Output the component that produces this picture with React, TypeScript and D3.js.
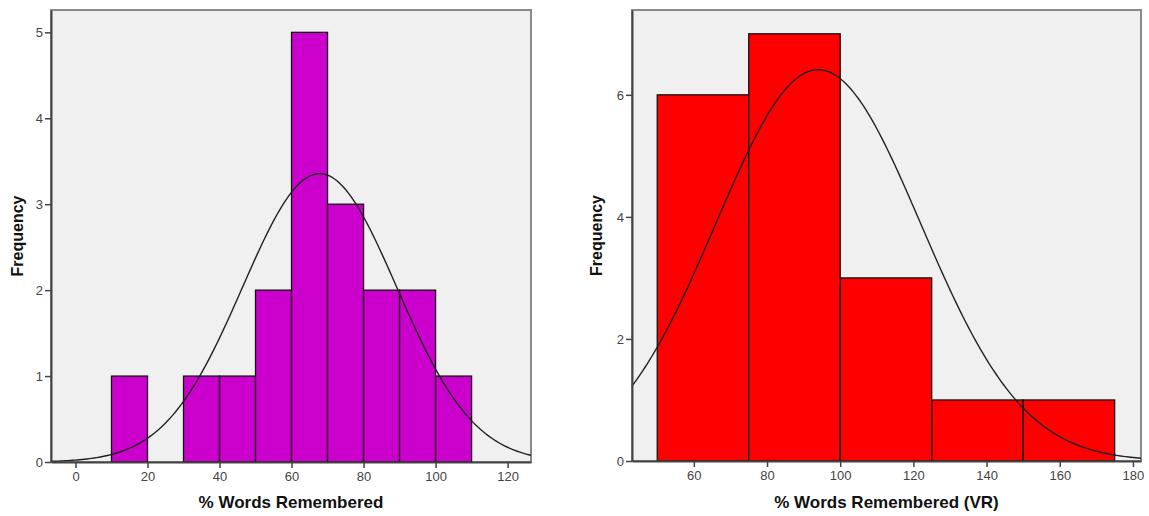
import { useRef, useEffect } from 'react';
import * as d3 from 'd3';

// left histogram: % Words Remembered
const leftBins = [10, 30, 40, 50, 60, 70, 80, 90, 100];
const leftCounts = [1, 1, 1, 2, 5, 3, 2, 2, 1];
const leftBinWidth = 10;
const leftTicksX = [0, 20, 40, 60, 80, 100, 120];
const leftTicksY = [0, 1, 2, 3, 4, 5];
const leftMean = 67.8;
const leftSd = 21.4;

// right histogram: % Words Remembered (VR)
const rightBins = [50, 75, 100, 125, 150];
const rightCounts = [6, 7, 3, 1, 1];
const rightBinWidth = 25;
const rightTicksX = [60, 80, 100, 120, 140, 160, 180];
const rightTicksY = [0, 2, 4, 6];
const rightMean = 94;
const rightSd = 28;

const W = 1149;
const H = 516;
const FONT = 'Liberation Sans, Arial, sans-serif';

type Panel = {
  left: number; right: number; top: number; bottom: number;
  xDomain: [number, number]; yDomain: [number, number];
  bins: number[]; counts: number[]; binWidth: number;
  ticksX: number[]; ticksY: number[];
  mean: number; sd: number;
  fill: string; xLabel: string; yLabelX: number;
};

const panels: Panel[] = [
  {
    left: 51, right: 531, top: 10, bottom: 462,
    xDomain: [-6.8, 126.5], yDomain: [0, 5.26],
    bins: leftBins, counts: leftCounts, binWidth: leftBinWidth,
    ticksX: leftTicksX, ticksY: leftTicksY,
    mean: leftMean, sd: leftSd,
    fill: '#cc00cc', xLabel: '% Words Remembered', yLabelX: 17,
  },
  {
    left: 632, right: 1141, top: 10, bottom: 461,
    xDomain: [43.1, 182.2], yDomain: [0, 7.39],
    bins: rightBins, counts: rightCounts, binWidth: rightBinWidth,
    ticksX: rightTicksX, ticksY: rightTicksY,
    mean: rightMean, sd: rightSd,
    fill: '#ff0000', xLabel: '% Words Remembered (VR)', yLabelX: 596,
  },
];

const App = () => {
  const ref = useRef<SVGSVGElement>(null);

  useEffect(() => {
    const svg = d3.select(ref.current);
    svg.selectAll('*').remove();
    svg.attr('width', W).attr('height', H);

    panels.forEach(p => {
      const x = d3.scaleLinear().domain(p.xDomain).range([p.left, p.right]);
      const y = d3.scaleLinear().domain(p.yDomain).range([p.bottom, p.top]);
      const g = svg.append('g');

      // plot background + frame
      g.append('rect')
        .attr('x', p.left).attr('y', p.top)
        .attr('width', p.right - p.left).attr('height', p.bottom - p.top)
        .attr('fill', '#f0f0f0')
        .attr('stroke', '#8a8a8a')
        .attr('stroke-width', 2);

      const data = p.bins.map((b, i) => ({ x0: b, n: p.counts[i] }));

      g.selectAll('.bar')
        .data(data)
        .enter().append('rect')
        .attr('x', d => x(d.x0))
        .attr('y', d => y(d.n))
        .attr('width', d => x(d.x0 + p.binWidth) - x(d.x0))
        .attr('height', d => y(0) - y(d.n))
        .attr('fill', p.fill)
        .attr('stroke', '#111')
        .attr('stroke-width', 1.3);

      // fitted normal curve
      const total = d3.sum(p.counts);
      const scale = total * p.binWidth / (p.sd * Math.sqrt(2 * Math.PI));
      const pts = d3.range(0, 201).map(i => {
        const v = p.xDomain[0] + (p.xDomain[1] - p.xDomain[0]) * i / 200;
        const z = (v - p.mean) / p.sd;
        return [v, scale * Math.exp(-0.5 * z * z)] as [number, number];
      });
      g.append('path')
        .attr('d', d3.line<[number, number]>().x(d => x(d[0])).y(d => y(d[1]))(pts))
        .attr('fill', 'none')
        .attr('stroke', '#222')
        .attr('stroke-width', 1.4);

      // axes
      const xAxis = g.append('g')
        .attr('transform', `translate(0, ${p.bottom})`)
        .call(d3.axisBottom(x).tickValues(p.ticksX).tickFormat(d3.format('d')).tickSize(6).tickPadding(4).tickSizeOuter(0));
      const yAxis = g.append('g')
        .attr('transform', `translate(${p.left}, 0)`)
        .call(d3.axisLeft(y).tickValues(p.ticksY).tickFormat(d3.format('d')).tickSize(6).tickPadding(2).tickSizeOuter(0));

      [xAxis, yAxis].forEach(a => {
        a.select('.domain').attr('stroke', '#444').attr('stroke-width', 2);
        a.selectAll('.tick line').attr('stroke', '#444').attr('stroke-width', 1.5);
        a.selectAll('.tick text')
          .attr('fill', '#444')
          .attr('font-family', FONT)
          .attr('font-size', 13);
      });

      g.append('text')
        .attr('x', (p.left + p.right) / 2)
        .attr('y', 508)
        .attr('text-anchor', 'middle')
        .attr('font-family', FONT)
        .attr('font-weight', 'bold')
        .attr('font-size', 17)
        .attr('fill', '#111')
        .text(p.xLabel);

      g.append('text')
        .attr('transform', `translate(${p.yLabelX + 6}, ${(p.top + p.bottom) / 2}) rotate(-90)`)
        .attr('text-anchor', 'middle')
        .attr('font-family', FONT)
        .attr('font-weight', 'bold')
        .attr('font-size', 16)
        .attr('fill', '#111')
        .text('Frequency');
    });
  }, []);

  return (
    <svg ref={ref} style={{ position: 'absolute', left: 0, top: 0, background: '#fff' }}></svg>
  );
};

export default App;
